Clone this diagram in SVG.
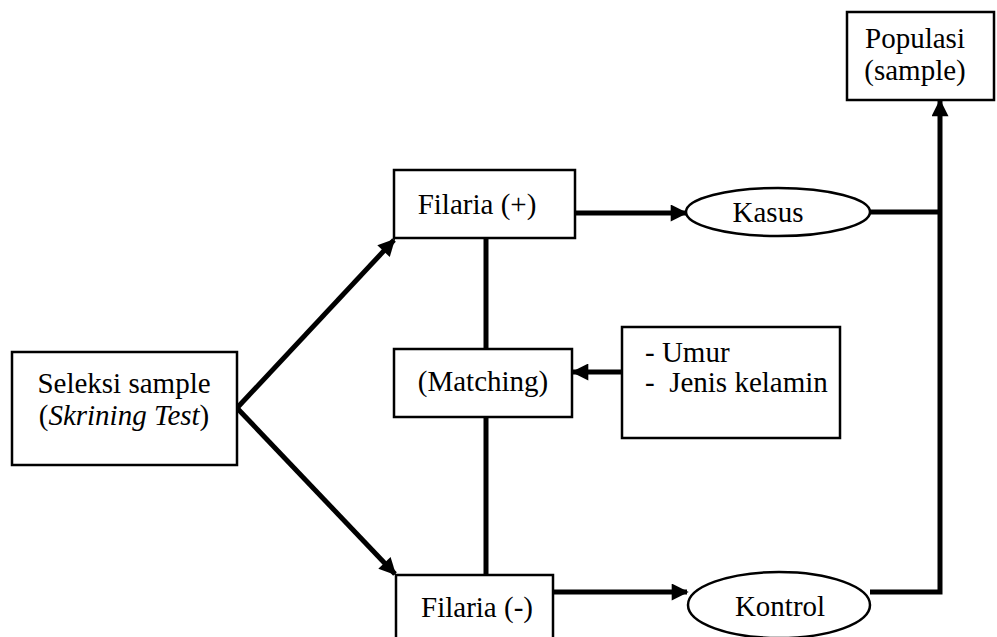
<svg xmlns="http://www.w3.org/2000/svg" width="997" height="637" viewBox="0 0 997 637">
  <style>
    .box { fill: #fff; stroke: #000; stroke-width: 2.5; }
    .ell { fill: #fff; stroke: #000; stroke-width: 2.5; }
    .line { fill: none; stroke: #000; stroke-width: 5; stroke-linecap: butt; }
    .txt { font-family: "Liberation Serif", "Times New Roman", serif; font-size: 29px; fill: #000; }
    .mid { text-anchor: middle; }
  </style>
  <defs>
    <marker id="arrow" viewBox="0 0 10 10" refX="9" refY="5" markerWidth="4" markerHeight="3.4" orient="auto" markerUnits="strokeWidth">
      <path d="M0,0 L10,5 L0,10 Z" fill="#000"/>
    </marker>
  </defs>

  <rect width="997" height="637" fill="#fff"/>

  <!-- connectors -->
  <g id="connectors">
    <line class="line" x1="237" y1="408" x2="394" y2="240" marker-end="url(#arrow)"/>
    <line class="line" x1="237" y1="408" x2="395" y2="574" marker-end="url(#arrow)"/>
    <line class="line" x1="575" y1="213" x2="686" y2="213" marker-end="url(#arrow)"/>
    <line class="line" x1="553" y1="592" x2="687" y2="592" marker-end="url(#arrow)"/>
    <line class="line" x1="486" y1="238" x2="486" y2="349"/>
    <line class="line" x1="486" y1="417" x2="486" y2="575"/>
    <line class="line" x1="622" y1="372" x2="573" y2="372" marker-end="url(#arrow)"/>
    <line class="line" x1="870" y1="212" x2="940" y2="212"/>
    <polyline class="line" points="870,592 940,592 940,101" marker-end="url(#arrow)"/>
  </g>

  <g id="seleksi">
    <rect class="box" x="12" y="352" width="225" height="113"/>
    <text class="txt mid" x="124" y="393">Seleksi sample</text>
    <text class="txt mid" x="124" y="425">(<tspan font-style="italic">Skrining Test</tspan>)</text>
  </g>

  <g id="filaria-pos">
    <rect class="box" x="394" y="170" width="181" height="68"/>
    <text class="txt mid" x="477" y="214">Filaria (+)</text>
  </g>

  <g id="kasus">
    <ellipse class="ell" cx="778" cy="212" rx="92" ry="24"/>
    <text class="txt mid" x="768" y="222">Kasus</text>
  </g>

  <g id="populasi">
    <rect class="box" x="847" y="12" width="147" height="88"/>
    <text class="txt mid" x="915" y="48">Populasi</text>
    <text class="txt mid" x="915" y="80">(sample)</text>
  </g>

  <g id="matching">
    <rect class="box" x="394" y="349" width="178" height="68"/>
    <text class="txt mid" x="483" y="391">(Matching)</text>
  </g>

  <g id="variabel">
    <rect class="box" x="622" y="327" width="218" height="111"/>
    <text class="txt" x="645" y="362">- Umur</text>
    <text class="txt" x="645" y="392" xml:space="preserve">-  Jenis kelamin</text>
  </g>

  <g id="filaria-neg">
    <rect class="box" x="396" y="575" width="157" height="70"/>
    <text class="txt mid" x="477" y="617">Filaria (-)</text>
  </g>

  <g id="kontrol">
    <ellipse class="ell" cx="779" cy="605" rx="91" ry="33"/>
    <text class="txt mid" x="780" y="616">Kontrol</text>
  </g>
</svg>
